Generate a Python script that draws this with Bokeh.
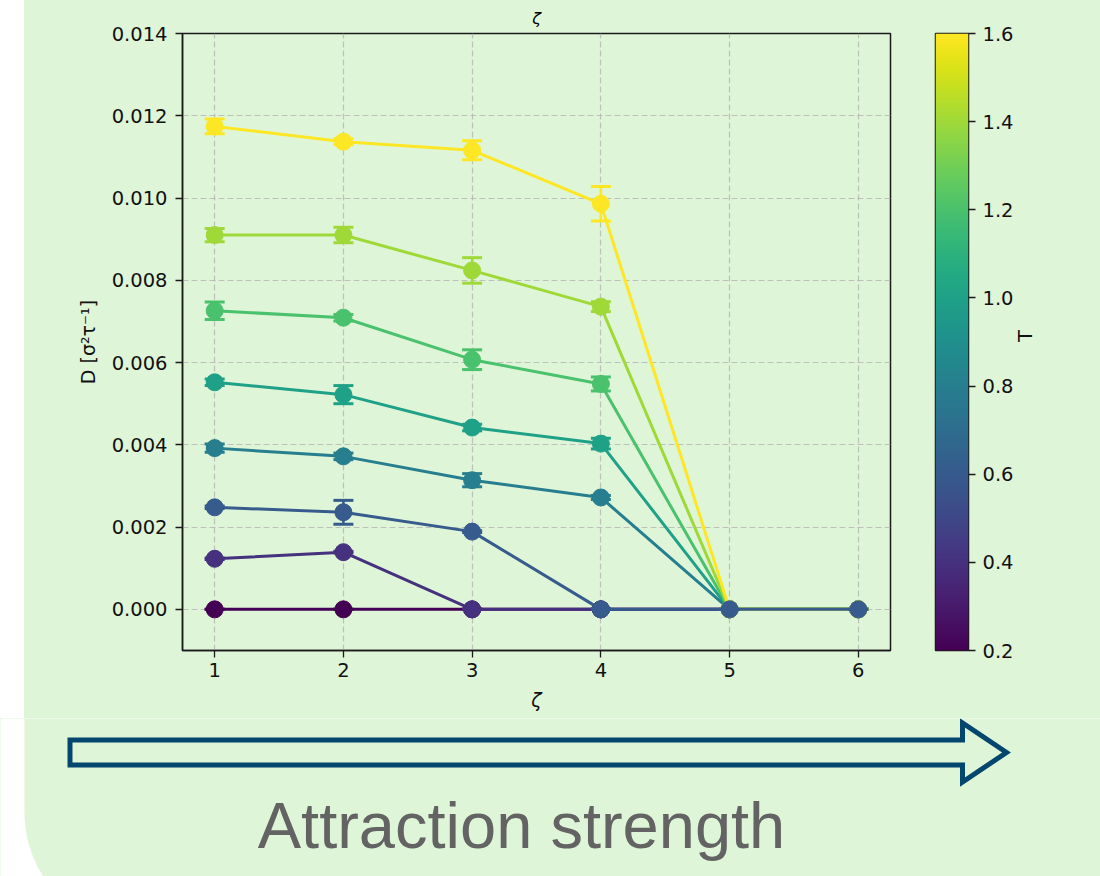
import math
import numpy as np
from bokeh.plotting import figure
from bokeh.models import (Range1d, FixedTicker, NumeralTickFormatter, LinearColorMapper, Spacer)
from bokeh.layouts import row, column
from bokeh.palettes import Viridis256
from bokeh.core.properties import value
from bokeh.embed import file_html
from bokeh.resources import INLINE

# ---------------- data ----------------
zeta = [1, 2, 3, 4, 5, 6]
x_ticks = [1, 2, 3, 4, 5, 6]
y_ticks = [0.000, 0.002, 0.004, 0.006, 0.008, 0.010, 0.012, 0.014]
T_ticks = [0.2, 0.4, 0.6, 0.8, 1.0, 1.2, 1.4, 1.6]

T_series = [0.2, 0.4, 0.8, 1.0, 1.2, 1.4, 1.6, 0.6]   # drawing order
D_T02 = [0.0, 0.0, 0.0, 0.0, 0.0, 0.0]
D_T04 = [0.00123, 0.00139, 0.0, 0.0, 0.0, 0.0]
D_T06 = [0.00248, 0.00236, 0.00189, 0.0, 0.0, 0.0]
D_T08 = [0.00392, 0.00372, 0.00314, 0.00272, 0.0, 0.0]
D_T10 = [0.00552, 0.00522, 0.00442, 0.00403, 0.0, 0.0]
D_T12 = [0.00726, 0.00709, 0.00607, 0.00548, 0.0, 0.0]
D_T14 = [0.00910, 0.00910, 0.00824, 0.00736, 0.0, 0.0]
D_T16 = [0.01174, 0.01137, 0.01116, 0.00986, 0.0, 0.0]

E_T02 = [0.0, 0.0, 0.0, 0.0, 0.0, 0.0]
E_T04 = [0.00002, 0.00002, 0.0, 0.0, 0.0, 0.0]
E_T06 = [0.00003, 0.00029, 0.00002, 0.0, 0.0, 0.0]
E_T08 = [0.00010, 0.00008, 0.00016, 0.00005, 0.0, 0.0]
E_T10 = [0.00008, 0.00022, 0.00008, 0.00013, 0.0, 0.0]
E_T12 = [0.00021, 0.00008, 0.00024, 0.00017, 0.0, 0.0]
E_T14 = [0.00016, 0.00019, 0.00031, 0.00012, 0.0, 0.0]
E_T16 = [0.00018, 0.00007, 0.00023, 0.00042, 0.0, 0.0]

D_by_T = {0.2: D_T02, 0.4: D_T04, 0.6: D_T06, 0.8: D_T08,
          1.0: D_T10, 1.2: D_T12, 1.4: D_T14, 1.6: D_T16}
E_by_T = {0.2: E_T02, 0.4: E_T04, 0.6: E_T06, 0.8: E_T08,
          1.0: E_T10, 1.2: E_T12, 1.4: E_T14, 1.6: E_T16}

T_low, T_high = 0.2, 1.6

# ---------------- styles ----------------
BG = "#dff5d8"
ARROW = "#03466e"
FONT = "DejaVu Sans"
TICK_FS = "19.5px"
TOP_H = 718

mapper = LinearColorMapper(palette=Viridis256, low=T_low, high=T_high)


def vcolor(t):
    idx = int(round((t - T_low) / (T_high - T_low) * 255))
    return Viridis256[max(0, min(255, idx))]


# ---------------- main plot ----------------
p = figure(width=886, height=TOP_H, x_range=Range1d(0.75, 6.25), y_range=Range1d(-0.001, 0.014),
           output_backend="svg", toolbar_location=None,
           min_border_left=158, min_border_right=20, min_border_top=31, min_border_bottom=68,
           background_fill_color=BG, border_fill_color=BG, title="ζ",
           styles={"background-color": BG})
p.title.align = "center"
p.title.text_font = FONT
p.title.text_font_style = "italic"
p.title.text_font_size = "16px"
p.title.text_color = "black"
p.title.standoff = 12

p.outline_line_color = "#1a1a1a"
p.outline_line_width = 1.5

for ax in (p.xaxis, p.yaxis):
    ax.axis_line_color = "#1a1a1a"
    ax.axis_line_width = 1.5
    ax.major_tick_line_color = "#1a1a1a"
    ax.major_tick_line_width = 1.3
    ax.major_tick_out = 7
    ax.major_tick_in = 0
    ax.minor_tick_out = 0
    ax.minor_tick_in = 0
    ax.major_label_text_font = FONT
    ax.major_label_text_font_size = TICK_FS
    ax.major_label_text_color = "#111111"
    ax.axis_label_text_font = FONT
    ax.axis_label_text_color = "#111111"

p.xaxis.ticker = FixedTicker(ticks=x_ticks)
p.xaxis.major_label_standoff = 5
p.xaxis.axis_label = "ζ"
p.xaxis.axis_label_text_font_style = "italic"
p.xaxis.axis_label_text_font_size = "19px"
p.xaxis.axis_label_standoff = 9

p.yaxis.ticker = FixedTicker(ticks=y_ticks)
p.yaxis.formatter = NumeralTickFormatter(format="0.000")
p.yaxis.major_label_standoff = 8
p.yaxis.axis_label = "D [σ²τ⁻¹]"
p.yaxis.axis_label_text_font_style = "normal"
p.yaxis.axis_label_text_font_size = "19px"
p.yaxis.axis_label_standoff = 10

for g in (p.xgrid, p.ygrid):
    g.grid_line_color = "#b0b0b0"
    g.grid_line_alpha = 0.75
    g.grid_line_dash = "6 3"
    g.grid_line_width = 1.2
p.xgrid.ticker = FixedTicker(ticks=x_ticks)
p.ygrid.ticker = FixedTicker(ticks=y_ticks)

for t in T_series:
    c = vcolor(t)
    ys = D_by_T[t]
    es = E_by_T[t]
    lower = [y - e for y, e in zip(ys, es)]
    upper = [y + e for y, e in zip(ys, es)]
    p.segment(x0=zeta, y0=lower, x1=zeta, y1=upper, line_color=c, line_width=2.5)
    p.scatter(zeta, upper, marker="dash", size=20, line_color=c, line_width=3)
    p.scatter(zeta, lower, marker="dash", size=20, line_color=c, line_width=3)
    p.line(zeta, ys, line_color=c, line_width=3)
    p.scatter(zeta, ys, marker="circle", size=17, fill_color=c, line_color=c)

# ---------------- colour bar ----------------
CB_W = 1100 - 24 - 886
cb = figure(width=CB_W, height=TOP_H, x_range=Range1d(0, 1), y_range=Range1d(T_low, T_high),
            output_backend="svg", toolbar_location=None,
            x_axis_location=None, y_axis_location="right",
            min_border_left=25, min_border_right=CB_W - 25 - 33, min_border_top=31, min_border_bottom=68,
            background_fill_color=BG, border_fill_color=BG, styles={"background-color": BG})
grad = np.linspace(T_low, T_high, 256).reshape(256, 1)
cb.image(image=[grad], x=0, y=T_low, dw=1, dh=T_high - T_low, color_mapper=mapper)
cb.grid.visible = False
cb.outline_line_color = "#1a1a1a"
cb.outline_line_width = 1.5
ax = cb.yaxis
ax.ticker = FixedTicker(ticks=T_ticks)
ax.formatter = NumeralTickFormatter(format="0.0")
ax.axis_line_color = None
ax.major_tick_line_color = "#1a1a1a"
ax.major_tick_line_width = 1.3
ax.major_tick_out = 7
ax.major_tick_in = 0
ax.minor_tick_out = 0
ax.minor_tick_in = 0
ax.major_label_standoff = 7
ax.major_label_text_font = FONT
ax.major_label_text_font_size = TICK_FS
ax.major_label_text_color = "#111111"
ax.axis_label = "T"
ax.axis_label_text_font = FONT
ax.axis_label_text_font_style = "normal"
ax.axis_label_text_font_size = TICK_FS
ax.axis_label_text_color = "#111111"
ax.axis_label_standoff = 9
try:
    ax.axis_label_orientation = math.pi / 2
except Exception:
    pass

# ---------------- bottom panel: arrow + caption ----------------
BW, BH = 1100, 876 - TOP_H
b = figure(width=BW, height=BH, x_range=Range1d(0, BW), y_range=Range1d(BH, 0),
           output_backend="svg", toolbar_location=None, min_border=0,
           x_axis_location=None, y_axis_location=None,
           background_fill_color="white", border_fill_color="white", outline_line_color=None,
           styles={"background-color": BG})
b.grid.visible = False

# green panel with rounded lower-left corner
left, r = 24.0, 118.0
cx, cy = left + r, 94.0
arc_y = np.linspace(BH, cy, 40)
arc_x = left + r - np.sqrt(np.maximum(r * r - (arc_y - cy) ** 2, 0))
px = [left, BW, BW] + list(arc_x) + [left]
py = [0, 0, BH] + list(arc_y) + [cy]
b.patch(px, py, fill_color=BG, line_color=None)

ax_pts = [69.5, 962, 962, 1006, 962, 962, 69.5]
ay_pts = [21.5, 21.5, 4.5, 34, 63.5, 46.5, 46.5]
b.patch(ax_pts, ay_pts, fill_color=None, line_color=ARROW, line_width=5, line_join="miter")

b.text(x=[521], y=[107], text=["Attraction strength"], text_font=value("Liberation Sans"),
       text_font_size="65px", text_color="#636363", text_align="center",
       text_baseline="middle")

layout = column(row(Spacer(width=24, height=TOP_H), p, cb), b)

open("out.html", "w").write(file_html(layout, INLINE))
